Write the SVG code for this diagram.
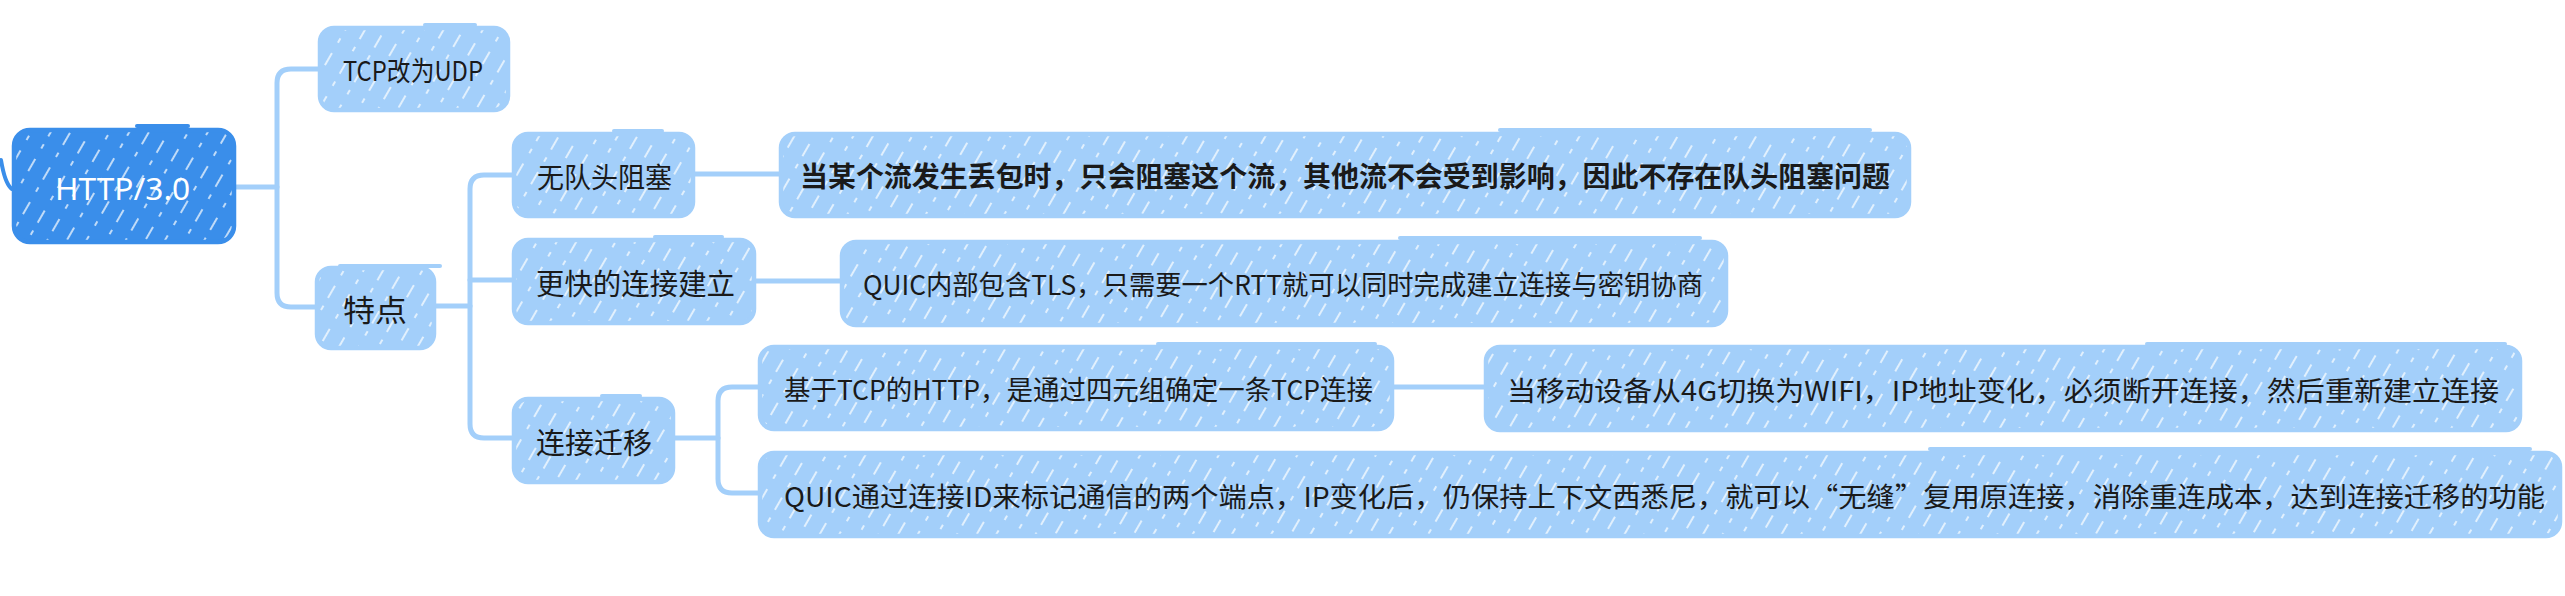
<svg xmlns="http://www.w3.org/2000/svg" width="2565" height="596" viewBox="0 0 2565 596">
  <defs>
    <pattern id="hatchLight" width="17" height="40" patternUnits="userSpaceOnUse" patternTransform="rotate(30)">
      <rect width="17" height="40" fill="#a3cffa"/>
      <line x1="8" y1="0" x2="8" y2="40" stroke="#ffffff" stroke-width="1.6" stroke-dasharray="14 9 5 12" opacity="0.85"/>
    </pattern>
    <pattern id="hatchDark" width="17" height="40" patternUnits="userSpaceOnUse" patternTransform="rotate(30)">
      <rect width="17" height="40" fill="#3a8eea"/>
      <line x1="8" y1="0" x2="8" y2="40" stroke="#ffffff" stroke-width="1.6" stroke-dasharray="14 9 5 12" opacity="0.85"/>
    </pattern>
    <style>
      .light { fill: url(#hatchLight); stroke: #a3cffa; stroke-width: 4.5; }
      .dark { fill: url(#hatchDark); stroke: #3a8eea; stroke-width: 4.5; }
      .tabL { fill: none; stroke: #a3cffa; stroke-width: 4; stroke-linecap: round; }
      .tabD { fill: none; stroke: #3a8eea; stroke-width: 4; stroke-linecap: round; }
      .conn { fill: none; stroke: #a3cffa; stroke-width: 5; stroke-linecap: round; stroke-linejoin: round; }
      .t { font-family: "Noto Sans CJK SC", "Noto Sans", sans-serif; fill: #1a1a1a; dominant-baseline: central; }
      .tw { font-family: "Noto Sans", "Noto Sans CJK SC", sans-serif; fill: #ffffff; dominant-baseline: central; }
    </style>
  </defs>

  <g id="connectors">
    <path class="conn" d="M234,187 H277"/>
    <path class="conn" d="M320,69 H291 Q277,69 277,83 V293 Q277,307 291,307 H318"/>
    <path class="conn" d="M434,306 H470"/>
    <path class="conn" d="M513,175 H484 Q470,175 470,189 V424 Q470,438 484,438 H514"/>
    <path class="conn" d="M470,280 H514"/>
    <path class="conn" d="M693,174 H782"/>
    <path class="conn" d="M754,281 H842"/>
    <path class="conn" d="M673,438 H718"/>
    <path class="conn" d="M760,387 H732 Q718,387 718,401 V479 Q718,493 732,493 H760"/>
    <path class="conn" d="M1392,387 H1486"/>
  </g>

  <g id="node-http">
    <rect class="dark" x="14" y="130" width="220" height="112" rx="16"/>
    <path class="tabD" d="M137,126 H188"/>
    <path class="tabD" d="M1,160 Q5,184 12,189"/>
    <text class="tw" x="55" y="188" font-size="31" textLength="135" lengthAdjust="spacingAndGlyphs">HTTP/3.0</text>
  </g>

  <g id="node-tcpudp">
    <rect class="light" x="320" y="28" width="188" height="82" rx="14"/>
    <path class="tabL" d="M425,25 H475"/>
    <text class="t" x="343" y="69" font-size="27" textLength="140" lengthAdjust="spacingAndGlyphs">TCP改为UDP</text>
  </g>

  <g id="node-features">
    <rect class="light" x="317" y="268" width="117" height="80" rx="14"/>
    <path class="tabL" d="M340,266 H440"/>
    <text class="t" x="343" y="308" font-size="30" textLength="64" lengthAdjust="spacingAndGlyphs">特点</text>
  </g>

  <g id="node-hol">
    <rect class="light" x="514" y="134" width="179" height="82" rx="14"/>
    <path class="tabL" d="M614,131 H662"/>
    <text class="t" x="537" y="176" font-size="28" textLength="135" lengthAdjust="spacingAndGlyphs">无队头阻塞</text>
  </g>

  <g id="node-faster">
    <rect class="light" x="514" y="240" width="240" height="83" rx="14"/>
    <path class="tabL" d="M655,237 H722"/>
    <text class="t" x="536" y="282" font-size="29" textLength="199" lengthAdjust="spacingAndGlyphs">更快的连接建立</text>
  </g>

  <g id="node-migration">
    <rect class="light" x="514" y="399" width="159" height="83" rx="14"/>
    <path class="tabL" d="M602,396 H640"/>
    <text class="t" x="536" y="441" font-size="29" textLength="116" lengthAdjust="spacingAndGlyphs">连接迁移</text>
  </g>

  <g id="node-hol-desc">
    <rect class="light" x="781" y="134" width="1128" height="82" rx="14"/>
    <path class="tabL" d="M1500,130 H1870"/>
    <text class="t" x="800" y="175" font-size="28" font-weight="bold" textLength="1090" lengthAdjust="spacingAndGlyphs">当某个流发生丢包时，只会阻塞这个流，其他流不会受到影响，因此不存在队头阻塞问题</text>
  </g>

  <g id="node-faster-desc">
    <rect class="light" x="842" y="242" width="884" height="83" rx="14"/>
    <path class="tabL" d="M1400,238 H1700"/>
    <text class="t" x="863" y="283" font-size="27" textLength="840" lengthAdjust="spacingAndGlyphs">QUIC内部包含TLS，只需要一个RTT就可以同时完成建立连接与密钥协商</text>
  </g>

  <g id="node-tcp-http">
    <rect class="light" x="760" y="347" width="632" height="82" rx="14"/>
    <path class="tabL" d="M1158,344 H1375"/>
    <text class="t" x="784" y="388" font-size="27" textLength="589" lengthAdjust="spacingAndGlyphs">基于TCP的HTTP，是通过四元组确定一条TCP连接</text>
  </g>

  <g id="node-tcp-http-desc">
    <rect class="light" x="1486" y="347" width="1034" height="83" rx="14"/>
    <path class="tabL" d="M2147,344 H2505"/>
    <text class="t" x="1507" y="389" font-size="27" textLength="992" lengthAdjust="spacingAndGlyphs">当移动设备从4G切换为WIFI，IP地址变化，必须断开连接，然后重新建立连接</text>
  </g>

  <g id="node-quic-id">
    <rect class="light" x="760" y="453" width="1800" height="83" rx="14"/>
    <path class="tabL" d="M1930,449 H2530"/>
    <text class="t" x="784" y="495" font-size="27" textLength="1761" lengthAdjust="spacingAndGlyphs">QUIC通过连接ID来标记通信的两个端点，IP变化后，仍保持上下文西悉尼，就可以“无缝”复用原连接，消除重连成本，达到连接迁移的功能</text>
  </g>
</svg>
